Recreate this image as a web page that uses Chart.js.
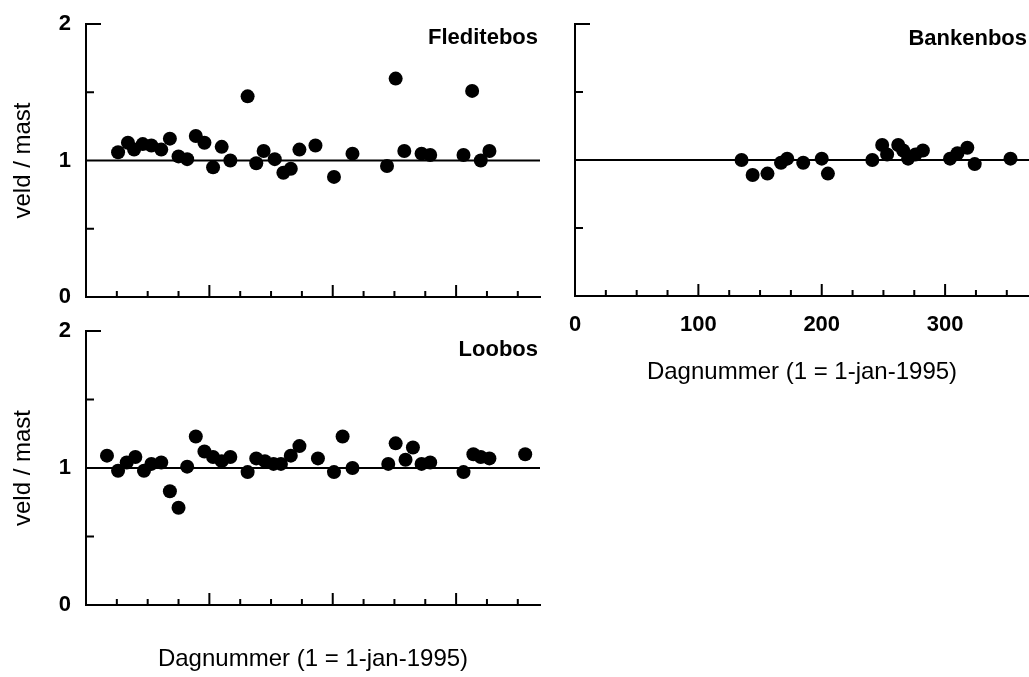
<!DOCTYPE html>
<html><head><meta charset="utf-8">
<script src="https://cdn.jsdelivr.net/npm/chart.js@4.4.0/dist/chart.umd.min.js"></script>
<style>
html,body{margin:0;padding:0;background:#fff;}
#wrap{position:relative;width:1029px;height:677px;overflow:hidden;}
#wrap canvas{position:absolute;left:0;top:0;}
</style></head><body>
<div id="wrap">
<canvas id="c1" width="1029" height="677"></canvas>
<canvas id="c2" width="1029" height="677"></canvas>
<canvas id="c3" width="1029" height="677"></canvas>
</div>
<script>
// ---- data ----
const panelNames = ['Fleditebos', 'Bankenbos', 'Loobos'];
const yTitle = 'veld / mast';
const xTitle = 'Dagnummer (1 = 1-jan-1995)';
const xMin = 0, xMax = 368;
const yMin = 0, yMax = 2;
const refValue = 1;
const xTickLabels = [0, 100, 200, 300];
const xTickMarks = [25, 50, 75, 100, 125, 150, 175, 200, 225, 250, 275, 300, 325, 350];
const yTickLabels = [0, 1, 2];
const yTickMarks = [0.5, 1.5, 2];

const fleditebosDays = [26, 34, 39, 46, 53, 61, 68, 75, 82, 89, 96, 103, 110, 117, 131, 138, 144, 153, 160, 166, 173, 186, 201, 216, 244, 251, 258, 272, 279, 306, 313, 320, 327];
const fleditebosRatio = [1.06, 1.13, 1.08, 1.12, 1.11, 1.08, 1.16, 1.03, 1.01, 1.18, 1.13, 0.95, 1.10, 1.00, 1.47, 0.98, 1.07, 1.01, 0.91, 0.94, 1.08, 1.11, 0.88, 1.05, 0.96, 1.60, 1.07, 1.05, 1.04, 1.04, 1.51, 1.00, 1.07];

const bankenbosDays = [135, 144, 156, 167, 172, 185, 200, 205, 241, 249, 253, 262, 266, 270, 276, 282, 304, 310, 318, 324, 353];
const bankenbosRatio = [1.00, 0.89, 0.90, 0.98, 1.01, 0.98, 1.01, 0.90, 1.00, 1.11, 1.04, 1.11, 1.07, 1.01, 1.04, 1.07, 1.01, 1.05, 1.09, 0.97, 1.01];

const loobosDays = [17, 26, 33, 40, 47, 53, 61, 68, 75, 82, 89, 96, 103, 110, 117, 131, 138, 145, 152, 158, 166, 173, 188, 201, 208, 216, 245, 251, 259, 265, 272, 279, 306, 314, 320, 327, 356];
const loobosRatio = [1.09, 0.98, 1.04, 1.08, 0.98, 1.03, 1.04, 0.83, 0.71, 1.01, 1.23, 1.12, 1.08, 1.05, 1.08, 0.97, 1.07, 1.05, 1.03, 1.03, 1.09, 1.16, 1.07, 0.97, 1.23, 1.00, 1.03, 1.18, 1.06, 1.15, 1.03, 1.04, 0.97, 1.10, 1.08, 1.07, 1.10];

// ---- rendering ----
const FONT = '"Liberation Sans", Arial, Helvetica, sans-serif';
Chart.defaults.font.family = FONT;
Chart.defaults.color = '#000';

const panelDecor = {
  id: 'panelDecor',
  afterDatasetsDraw(chart, args, opts) {
    const {ctx, chartArea: a, scales: {x, y}} = chart;
    ctx.save();
    ctx.strokeStyle = '#000';
    ctx.lineWidth = 2;
    ctx.beginPath();
    xTickMarks.forEach(v => {
      const px = x.getPixelForValue(v);
      const len = (v % 100 === 0) ? 12 : 6;
      ctx.moveTo(px, a.bottom);
      ctx.lineTo(px, a.bottom - len);
    });
    yTickMarks.forEach(v => {
      const py = y.getPixelForValue(v);
      const len = (v === yMax) ? 15 : 8;
      ctx.moveTo(a.left, py);
      ctx.lineTo(a.left + len, py);
    });
    ctx.stroke();
    ctx.font = 'bold 22px ' + FONT;
    ctx.fillStyle = '#000';
    ctx.textAlign = 'right';
    ctx.textBaseline = 'alphabetic';
    ctx.fillText(opts.text, a.right - opts.dx, a.top + opts.dy);
    ctx.restore();
  }
};

function makeChart(id, cfg) {
  const pts = cfg.days.map((d, i) => ({x: d, y: cfg.vals[i]}));
  return new Chart(document.getElementById(id), {
    type: 'scatter',
    data: {
      datasets: [
        {type: 'line', data: [{x: xMin, y: refValue}, {x: xMax, y: refValue}], borderColor: '#000', borderWidth: 2, pointRadius: 0, order: 2},
        {data: pts, backgroundColor: '#000', borderColor: '#000', pointRadius: 7, pointBorderWidth: 0, order: 1}
      ]
    },
    options: {
      responsive: false,
      animation: false,
      events: [],
      layout: {padding: cfg.padding, autoPadding: false},
      plugins: {
        legend: {display: false},
        tooltip: {enabled: false},
        panelDecor: {text: cfg.name, dx: cfg.tdx, dy: cfg.tdy}
      },
      scales: {
        x: {
          type: 'linear', min: xMin, max: xMax,
          afterBuildTicks: s => { s.ticks = xTickLabels.map(v => ({value: v})); },
          afterFit: s => { s.height = cfg.xH; s.paddingLeft = 0; s.paddingRight = 0; },
          grid: {display: false, drawTicks: false},
          border: {display: true, color: '#000', width: 2},
          ticks: {display: cfg.xLabels, padding: 16, color: '#000', font: {size: 22, weight: 'bold'}},
          title: {display: cfg.xTitle, text: xTitle, color: '#000', font: {size: 24, weight: 'normal'}, padding: {top: 0, bottom: 3.6}}
        },
        y: {
          type: 'linear', min: yMin, max: yMax,
          afterBuildTicks: s => { s.ticks = yTickLabels.map(v => ({value: v})); },
          afterFit: s => { s.width = cfg.yW; s.paddingTop = 0; s.paddingBottom = 0; },
          grid: {display: false, drawTicks: false},
          border: {display: true, color: '#000', width: 2},
          ticks: {display: cfg.yLabels, padding: 15, color: '#000', font: {size: 22, weight: 'bold'}},
          title: {display: cfg.yTitle, text: yTitle, color: '#000', font: {size: 24, weight: 'normal'}, padding: {top: 1, bottom: 0}}
        }
      }
    },
    plugins: [panelDecor]
  });
}

makeChart('c1', {name: panelNames[0], days: fleditebosDays, vals: fleditebosRatio,
  padding: {left: 8, right: 489, top: 24, bottom: 370}, yW: 78, xH: 10,
  xLabels: false, xTitle: false, yLabels: true, yTitle: true, tdx: 2, tdy: 20});
makeChart('c2', {name: panelNames[1], days: bankenbosDays, vals: bankenbosRatio,
  padding: {left: 565, right: 0, top: 24, bottom: 287}, yW: 10, xH: 94,
  xLabels: true, xTitle: true, yLabels: false, yTitle: false, tdx: 2, tdy: 21});
makeChart('c3', {name: panelNames[2], days: loobosDays, vals: loobosRatio,
  padding: {left: 8, right: 489, top: 331, bottom: 0}, yW: 78, xH: 72,
  xLabels: false, xTitle: true, yLabels: true, yTitle: true, tdx: 2, tdy: 25});
</script>
</body></html>
